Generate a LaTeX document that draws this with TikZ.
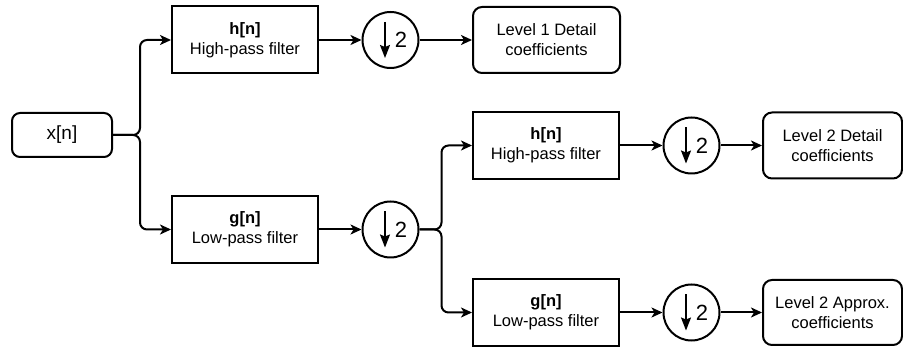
\documentclass[tikz,border=0pt]{standalone}
\usepackage{fontspec}
\setmainfont{Liberation Sans}
\usetikzlibrary{arrows.meta}
\tikzset{
  x=1pt, y=-1pt,
  every node/.style={font=\fontsize{16.5}{20}\selectfont, align=center, line width=2pt},
  filterbox/.style={draw, rectangle, minimum width=146pt, minimum height=67pt, inner sep=0pt},
  endbox/.style={draw, rectangle, rounded corners=9pt, minimum height=66pt, inner sep=0pt},
  downsample/.style={draw, circle, minimum size=56pt, inner sep=0pt,
    path picture={
      % downward arrow (y axis points down here)
      \draw[line width=1.6pt, -{Stealth[length=13pt,width=10pt,inset=2pt]}]
        ([xshift=-5.5pt,yshift=18pt]path picture bounding box.center) -- ++(0,36);
      \node[font=\fontsize{22}{22}\selectfont, inner sep=0pt]
        at ([xshift=10.5pt]path picture bounding box.center) {2};
    }},
  flow/.style={line width=2pt, -{Stealth[length=11pt,width=10pt,inset=3pt]}},
  split/.style={flow, rounded corners=7pt},
}
\begin{document}
\begin{tikzpicture}
\useasboundingbox (0,0) rectangle (903,347);

% input signal
\node[draw, rounded corners=8pt, minimum width=100pt, minimum height=44pt, inner sep=0pt,
      font=\fontsize{19}{22}\selectfont] (x) at (62,135) {x[n]};

% first decomposition level
\node[filterbox] (h1) at (245,40) {\textbf{h[n]}\\High-pass filter};
\node[filterbox] (g1) at (245,229.5) {\textbf{g[n]}\\Low-pass filter};
\node[downsample] (d1) at (390.5,40) {};
\node[downsample] (d2) at (390.5,229.5) {};
\node[endbox, minimum width=147pt] (L1) at (546.5,40) {Level 1 Detail\\coefficients};

% second decomposition level
\node[filterbox] (h2) at (546,145.5) {\textbf{h[n]}\\High-pass filter};
\node[filterbox] (g2) at (546,312.5) {\textbf{g[n]}\\Low-pass filter};
\node[downsample] (d3) at (691.5,145.5) {};
\node[downsample] (d4) at (691.5,312.5) {};
\node[endbox, minimum width=139pt] (L2d) at (832.5,145.5) {Level 2 Detail\\coefficients};
\node[endbox, minimum width=139pt, minimum height=65pt] (L2a) at (832.5,312.5) {Level 2 Approx.\\coefficients};

% connectors
\draw[split] (x.east) -- ++(27,0) |- (h1.west);
\draw[split] (x.east) -- ++(27,0) |- (g1.west);
\draw[flow] (h1) -- (d1);
\draw[flow] (g1) -- (d2);
\draw[flow] (d1) -- (L1);
\draw[split] (d2.east) -- ++(22,0) |- (h2.west);
\draw[split] (d2.east) -- ++(22,0) |- (g2.west);
\draw[flow] (h2) -- (d3);
\draw[flow] (g2) -- (d4);
\draw[flow] (d3) -- (L2d);
\draw[flow] (d4) -- (L2a);
\end{tikzpicture}
\end{document}
